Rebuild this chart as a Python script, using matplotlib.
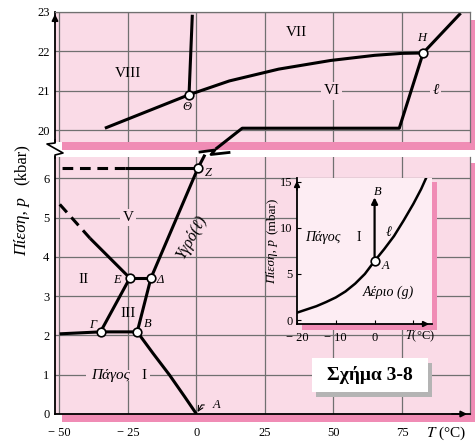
import matplotlib
matplotlib.use("Agg")
import matplotlib.pyplot as plt
from matplotlib.patches import Rectangle
from matplotlib.lines import Line2D

plt.rcParams['font.family'] = ['Liberation Serif', 'DejaVu Serif']
plt.rcParams['mathtext.fontset'] = 'stix'

W, H = 475, 441
PINK = '#fadbe7'
SHADOW = '#f08cb5'
INSET_BG = '#fdedf3'
GRID = '#707070'
LW = 2.2

# ---------------- data: high-pressure phases (kbar) ----------------
t_viii_vi = [-33.4, -2.7]
p_viii_vi = [20.05, 20.9]
t_viii_vii = [-2.7, -1.5]
p_viii_vii = [20.9, 22.93]
t_vii_vi = [-2.7, 12, 30, 49, 65, 75, 82.7]
p_vii_vi = [20.9, 21.25, 21.55, 21.77, 21.9, 21.95, 21.96]
t_vii_liq = [82.7, 96.4]
p_vii_liq = [21.96, 22.97]
t_vi_liq = [82.7, 74.0, 16.7, 7.0]
p_vi_liq = [21.96, 20.05, 20.05, 19.52]
t_upper_pts = [-2.7, 82.7]
p_upper_pts = [20.9, 21.96]

# ---------------- data: low-pressure phases (kbar) ----------------
t_v_liq = [-16.6, 0.5, 3.1]
p_v_liq = [3.46, 6.25, 6.6]
t_v_vi_solid = [0.5, -26.0]
p_v_vi_solid = [6.25, 6.25]
t_v_vi_dash = [-26.0, -49.0]
p_v_vi_dash = [6.25, 6.25]
t_iii_v = [-24.3, -16.6]
p_iii_v = [3.46, 3.46]
t_ii_v_solid = [-24.3, -38.8]
p_ii_v_solid = [3.46, 4.47]
t_ii_v_dash = [-38.8, -50.7]
p_ii_v_dash = [4.47, 5.40]
t_ii_iii = [-35.0, -24.3]
p_ii_iii = [2.09, 3.46]
t_iii_liq = [-21.6, -16.6]
p_iii_liq = [2.09, 3.46]
t_i_ii = [-49.9, -35.0, -21.6]
p_i_ii = [2.04, 2.09, 2.09]
t_i_liq = [-21.6, -15.8, -9.8, -4.3, 0.0]
p_i_liq = [2.09, 1.54, 0.99, 0.44, 0.0]
t_lower_pts = [0.5, -16.6, -24.3, -35.0, -21.6]
p_lower_pts = [6.25, 3.46, 3.46, 2.09, 2.09]

# ---------------- data: inset, near the triple point (mbar) ----------------
t_inset = [-20, -17.5, -15, -12.5, -10, -7.5, -5, -2.5, 0, 2.5, 5, 7.5, 10, 12, 13.5]
p_inset = [0.8, 1.15, 1.5, 1.95, 2.45, 3.1, 3.95, 5.0, 6.4, 7.7, 9.1, 10.8, 12.6, 14.2, 15.6]
t_triple, p_triple = 0.0, 6.4
p_arrow_top = 13.3

xticks_main = [-50, -25, 0, 25, 50, 75]
xticklabels_main = ['− 50', '− 25', '0', '25', '50', '75']
yticks_upper = [20, 21, 22, 23]
yticks_lower = [0, 1, 2, 3, 4, 5, 6]
xticks_inset = [-20, -10, 0, 10]
xticklabels_inset = ['− 20', '− 10', '0', '']
yticks_inset = [0, 5, 10, 15]


def fx(px):
    return px / W


def fy(py):
    return 1 - py / H


def rect(x0, y0, x1, y1):
    return [fx(x0), fy(y1), (x1 - x0) / W, (y1 - y0) / H]


fig = plt.figure(figsize=(W / 100, H / 100), dpi=100)

# panel shadows
for (x0, y0, x1, y1) in [(62, 20, 477, 150), (62, 163, 477, 422)]:
    fig.patches.append(Rectangle((fx(x0), fy(y1)), (x1 - x0) / W, (y1 - y0) / H,
                                 transform=fig.transFigure, fc=SHADOW, ec='none', zorder=-1))

XLIM = (-51.6, 99.8)
ax_u = fig.add_axes(rect(55, 12, 470, 142), facecolor=PINK)
ax_l = fig.add_axes(rect(55, 157, 470, 414), facecolor=PINK)

for ax in (ax_u, ax_l):
    ax.set_xlim(*XLIM)
    ax.set_axisbelow(True)
    ax.grid(True, color=GRID, lw=0.9)
    ax.set_xticks(xticks_main)
    ax.tick_params(length=0, labelsize=9, pad=4)
    ax.spines['left'].set_color('black')
    ax.spines['left'].set_linewidth(1.3)
    ax.spines['right'].set_color(GRID)
    ax.spines['right'].set_linewidth(0.9)

ax_u.set_ylim(19.70, 23.0)
ax_u.set_yticks(yticks_upper)
ax_u.set_xticklabels([])
ax_u.spines['top'].set_color(GRID)
ax_u.spines['top'].set_linewidth(0.9)
ax_u.spines['bottom'].set_visible(False)

ax_l.set_ylim(0, 6.54)
ax_l.set_yticks(yticks_lower)
ax_l.set_xticklabels(xticklabels_main)
ax_l.tick_params(axis='x', pad=9)
ax_l.spines['top'].set_visible(False)
ax_l.spines['bottom'].set_color('black')
ax_l.spines['bottom'].set_linewidth(1.3)

# axis arrow heads
ax_u.annotate('', xy=(0, 1.005), xytext=(0, 0.9), xycoords='axes fraction',
              arrowprops=dict(arrowstyle='-|>', color='k', lw=1.3, mutation_scale=9))
ax_l.annotate('', xy=(1.0, 0), xytext=(0.95, 0), xycoords='axes fraction',
              arrowprops=dict(arrowstyle='-|>', color='k', lw=1.3, mutation_scale=9))

# break mark on the pressure axis
zz_x = [55, 55, 47, 63, 55, 55]
zz_y = [140, 143, 144, 153, 155, 158]
fig.add_artist(Line2D([fx(v) for v in zz_x], [fy(v) for v in zz_y], color='k', lw=1.2,
                      transform=fig.transFigure, zorder=3))

# break mark on the melting curve
zb_x = [200, 215, 211, 229]
zb_y = [152, 150, 154.5, 152.5]
fig.add_artist(Line2D([fx(v) for v in zb_x], [fy(v) for v in zb_y], color='k', lw=2.0,
                      transform=fig.transFigure, zorder=3))

line_kw = dict(color='k', lw=LW, solid_capstyle='butt')
pt_kw = dict(ls='none', marker='o', ms=6.2, mfc='white', mec='black', mew=1.2, zorder=5)

# upper panel lines
ax_u.plot(t_viii_vi, p_viii_vi, **line_kw)
ax_u.plot(t_viii_vii, p_viii_vii, **line_kw)
ax_u.plot(t_vii_vi, p_vii_vi, **line_kw)
ax_u.plot(t_vii_liq, p_vii_liq, **line_kw)
ax_u.plot(t_vi_liq, p_vi_liq, clip_on=False, **line_kw)
ax_u.plot(t_upper_pts, p_upper_pts, **pt_kw)

# lower panel lines
ax_l.plot(t_v_liq, p_v_liq, clip_on=False, **line_kw)
ax_l.plot(t_v_vi_solid, p_v_vi_solid, **line_kw)
ax_l.plot(t_v_vi_dash, p_v_vi_dash, color='k', lw=LW, dashes=(3.5, 2.2))
ax_l.plot(t_iii_v, p_iii_v, **line_kw)
ax_l.plot(t_ii_v_solid, p_ii_v_solid, **line_kw)
ax_l.plot(t_ii_v_dash, p_ii_v_dash, color='k', lw=LW, dashes=(3.5, 2.2))
ax_l.plot(t_ii_iii, p_ii_iii, **line_kw)
ax_l.plot(t_iii_liq, p_iii_liq, **line_kw)
ax_l.plot(t_i_ii, p_i_ii, **line_kw)
ax_l.plot(t_i_liq, p_i_liq, **line_kw)
ax_l.plot(t_lower_pts, p_lower_pts, **pt_kw)

lab_box = dict(boxstyle='square,pad=0.15', fc=PINK, ec='none')

# region / point labels, upper
ax_u.text(-25, 21.45, 'VIII', fontsize=11, ha='center', va='center')
ax_u.text(36.5, 22.48, 'VII', fontsize=11, ha='center', va='center')
ax_u.text(49.3, 21.0, 'VI', fontsize=11, ha='center', va='center', bbox=lab_box)
ax_u.text(87.3, 21.0, 'ℓ', fontsize=11, ha='center', va='center', fontstyle='italic', bbox=lab_box)
ax_u.text(-3.5, 20.58, 'Θ', fontsize=9, ha='center', va='center', fontstyle='italic')
ax_u.text(82.0, 22.33, 'H', fontsize=9, ha='center', va='center', fontstyle='italic')

# region / point labels, lower
ax_l.text(4.2, 6.13, 'Z', fontsize=9, ha='center', va='center', fontstyle='italic')
ax_l.text(-25, 5.0, 'V', fontsize=11, ha='center', va='center', bbox=lab_box)
ax_l.text(-41.3, 3.41, 'II', fontsize=11, ha='center', va='center')
ax_l.text(-25, 2.57, 'III', fontsize=11, ha='center', va='center')
ax_l.text(-29.0, 3.41, 'E', fontsize=9, ha='center', va='center', fontstyle='italic')
ax_l.text(-13.2, 3.41, 'Δ', fontsize=9, ha='center', va='center', fontstyle='italic')
ax_l.text(-38.0, 2.27, 'Γ', fontsize=9, ha='center', va='center', fontstyle='italic')
ax_l.text(-17.6, 2.29, 'B', fontsize=9, ha='center', va='center', fontstyle='italic')
# strip that hides the grid line behind "Πάγος I"
ax_l.add_patch(Rectangle((-40.2, 0.84), 23.4, 0.27, fc=PINK, ec='none', zorder=1.5))
ax_l.text(-31.5, 0.97, 'Πάγος', fontsize=11, ha='center', va='center', fontstyle='italic',
          zorder=3)
ax_l.text(-19.2, 0.97, 'I', fontsize=11, ha='center', va='center', zorder=3)
ax_l.text(-1.8, 4.5, 'Υγρό(ℓ)', fontsize=11.5, ha='center', va='center', fontstyle='italic',
          rotation=61, rotation_mode='anchor')
ax_l.annotate('A', xy=(0.4, 0.05), xytext=(7.3, 0.23), fontsize=9, fontstyle='italic',
              ha='center', va='center',
              arrowprops=dict(arrowstyle='->', color='k', lw=0.8, shrinkA=4, shrinkB=0,
                              connectionstyle='angle,angleA=180,angleB=60,rad=0'))

# pressure axis title
fig.text(fx(22), fy(227), 'Πίεση, p', rotation=90, fontsize=12.5, fontstyle='italic',
         ha='center', va='center')
fig.text(fx(22), fy(165), '(kbar)', rotation=90, fontsize=12, ha='center', va='center')
# temperature axis title
fig.text(fx(426), fy(433), '$T$ (°C)', fontsize=11, ha='left', va='center')

# ---------------- inset ----------------
fig.patches.append(Rectangle((fx(302), fy(330)), 135 / W, 148 / H, transform=fig.transFigure,
                             fc=SHADOW, ec='none', zorder=0.5))
ax_i = fig.add_axes(rect(297, 178, 432, 324), facecolor=INSET_BG, zorder=1)
ax_i.set_xlim(-20, 14.8)
ax_i.set_ylim(-0.43, 15.4)
for s in ('top', 'right'):
    ax_i.spines[s].set_visible(False)
for s in ('left', 'bottom'):
    ax_i.spines[s].set_color('black')
    ax_i.spines[s].set_linewidth(1.3)
ax_i.set_xticks(xticks_inset)
ax_i.set_xticklabels(xticklabels_inset)
ax_i.set_yticks(yticks_inset)
ax_i.tick_params(direction='in', length=3, width=0.8, labelsize=9)
ax_i.tick_params(axis='x', pad=6)
ax_i.tick_params(axis='y', pad=3)
ax_i.annotate('', xy=(0, 1.0), xytext=(0, 0.9), xycoords='axes fraction',
              arrowprops=dict(arrowstyle='-|>', color='k', lw=1.3, mutation_scale=8))
ax_i.annotate('', xy=(1.0, 0), xytext=(0.9, 0), xycoords='axes fraction',
              arrowprops=dict(arrowstyle='-|>', color='k', lw=1.3, mutation_scale=8))
ax_i.plot(t_inset, p_inset, color='k', lw=1.8)
ax_i.annotate('', xy=(t_triple, p_arrow_top), xytext=(t_triple, p_triple),
              arrowprops=dict(arrowstyle='-|>', color='k', lw=1.6, mutation_scale=9,
                              shrinkA=0, shrinkB=0))
ax_i.plot([t_triple], [p_triple], **pt_kw)
ax_i.text(0.8, 13.9, 'B', fontsize=9, ha='center', va='center', fontstyle='italic')
ax_i.text(3.6, 9.5, 'ℓ', fontsize=10, ha='center', va='center', fontstyle='italic')
ax_i.text(-13.3, 9.0, 'Πάγος', fontsize=10, ha='center', va='center', fontstyle='italic')
ax_i.text(-4.0, 9.0, 'I', fontsize=10, ha='center', va='center')
ax_i.text(2.9, 5.9, 'A', fontsize=9, ha='center', va='center', fontstyle='italic')
ax_i.text(3.6, 3.0, 'Αέριο (g)', fontsize=10, ha='center', va='center', fontstyle='italic')
fig.text(fx(420), fy(336), '$T$(°C)', fontsize=9, ha='center', va='center')
fig.text(fx(272), fy(262), 'Πίεση, p', rotation=90, fontsize=9.5, fontstyle='italic',
         ha='center', va='center')
fig.text(fx(272), fy(216), '(mbar)', rotation=90, fontsize=9.5, ha='center', va='center')

# caption box
fig.patches.append(Rectangle((fx(316), fy(397)), 116 / W, 34 / H, transform=fig.transFigure,
                             fc='#b4b4b4', ec='none', zorder=2))
fig.patches.append(Rectangle((fx(312), fy(392)), 116 / W, 34 / H, transform=fig.transFigure,
                             fc='white', ec='none', zorder=2.1))
fig.text(fx(370), fy(375), 'Σχήμα 3-8', fontsize=14, fontweight='bold', ha='center',
         va='center', zorder=2.2)

fig.savefig('out.png', dpi=100)
